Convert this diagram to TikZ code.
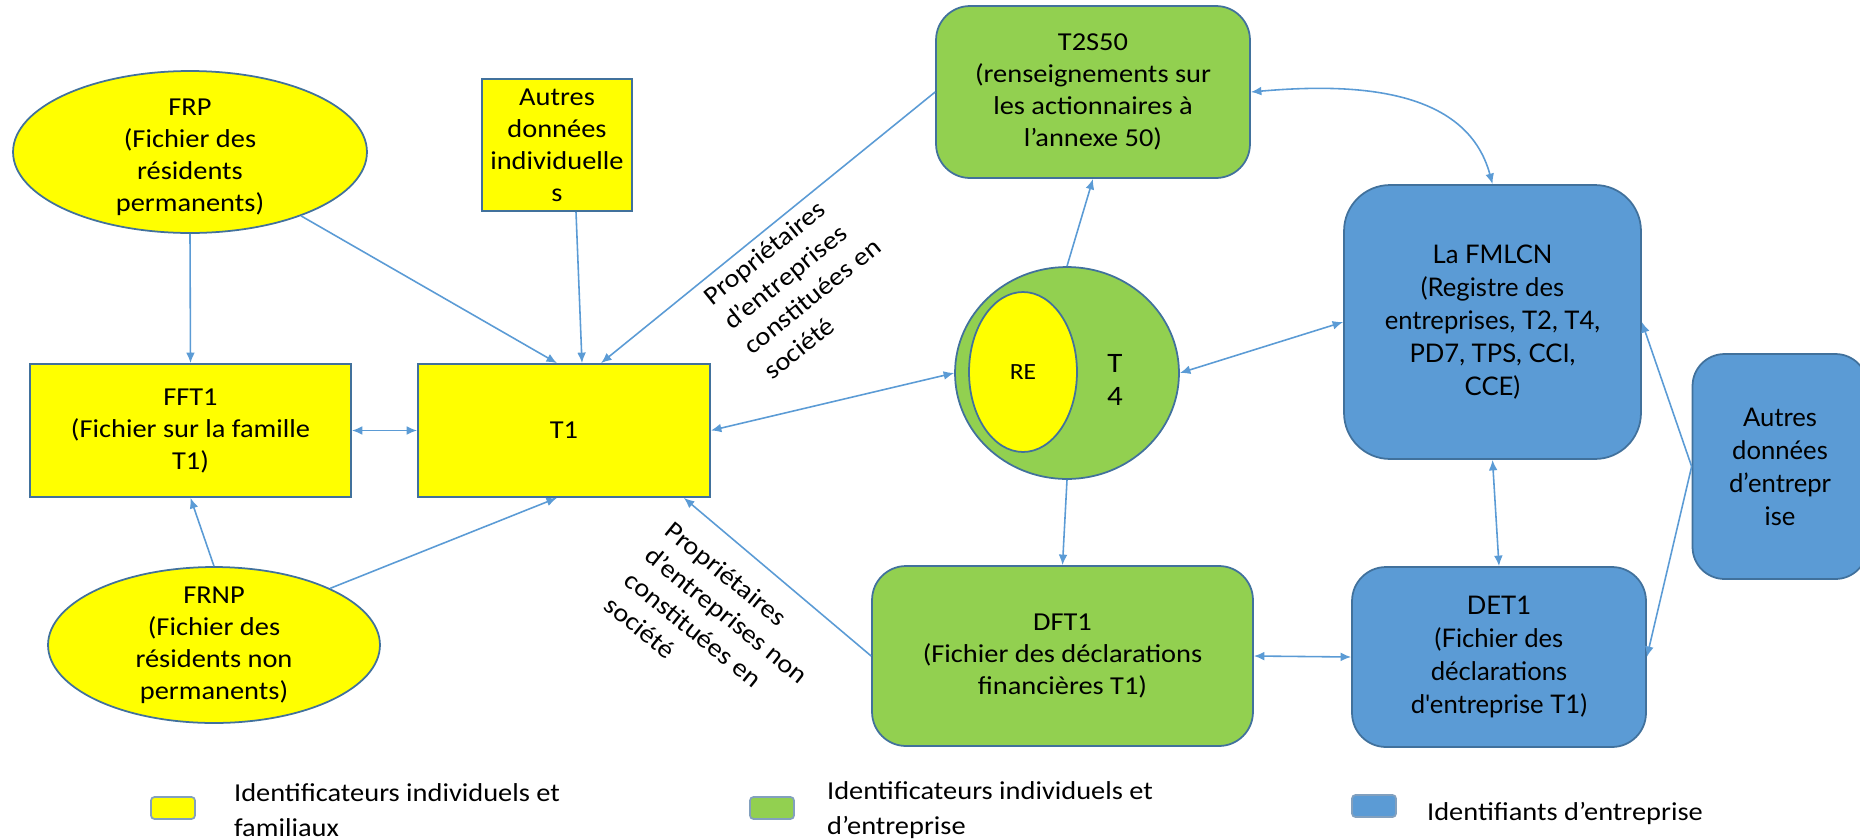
\documentclass[tikz,border=0pt]{standalone}
\usepackage{fontspec}
\setmainfont{Carlito}[FakeStretch=1.1]
\newfontfamily\latoFont{Lato}
\usetikzlibrary{shapes.geometric,arrows.meta,positioning,calc}
\definecolor{jaune}{RGB}{255,255,0}
\definecolor{vert}{RGB}{146,208,80}
\definecolor{bleu}{RGB}{91,155,213}
\definecolor{bord}{RGB}{65,113,156}
\definecolor{fleche}{RGB}{91,155,213}
\definecolor{bordLeg}{RGB}{130,160,190}

\begin{document}
\begin{tikzpicture}[x=0.02cm,y=-0.02cm,
    every node/.style={font=\fontsize{14.7}{18.2}\selectfont,align=center,inner sep=1pt},
    indiv/.style={draw=bord,fill=jaune,line width=1pt},
    mixte/.style={draw=bord,fill=vert,line width=1pt,rounded corners=0.68cm},
    entre/.style={draw=bord,fill=bleu,line width=1pt,rounded corners=0.68cm,
      font=\latoFont\fontsize{14.6}{18.8}\selectfont},
    lien/.style={draw=fleche,line width=0.9pt},
    >={Latex[length=6pt,width=5pt]}]

      \useasboundingbox (0,0) rectangle (1860,839);

      % draw the individual files
      \node[indiv,ellipse,inner sep=0pt,minimum width=7.08cm,minimum height=3.24cm] (frp) at (190,152) {};
      \node (frpTxt) at (190,157) {FRP\\(Fichier des\\résidents\\permanents)};
      \node[indiv,ellipse,inner sep=0pt,minimum width=6.64cm,minimum height=3.12cm] (frnp) at (214,645) {};
      \node (frnpTxt) at (frnp) {FRNP\\(Fichier des\\résidents non\\permanents)};
      \node[indiv,minimum width=6.42cm,minimum height=2.66cm] (fft) at (190.5,430.5) {FFT1\\(Fichier sur la famille\\T1)};
      \node[indiv,minimum width=5.84cm,minimum height=2.66cm] (tUn) at (564,430.5) {T1};
      \node[indiv,minimum width=3cm,minimum height=2.64cm] (autresInd) at (557,145) {Autres\\données\\individuelle\\s};

      % draw the mixed files
      \node[mixte,minimum width=6.28cm,minimum height=3.44cm] (tDeuxS) at (1093,92) {T2S50\\(renseignements sur\\les actionnaires à\\l’annexe 50)};
      \node[mixte,minimum width=7.62cm,minimum height=3.6cm] (dft) at (1062.5,656) {DFT1\\(Fichier des déclarations\\financières T1)};
      \node[draw=bord,fill=vert,line width=1pt,ellipse,inner sep=0pt,minimum width=4.48cm,minimum height=4.24cm] (cercleT) at (1067,373) {};
      \node[indiv,ellipse,inner sep=0pt,minimum width=2.16cm,minimum height=3.2cm,font=\fontsize{13.2}{16}\selectfont] (re) at (1023,372) {RE};
      \node[font=\fontsize{16}{18.5}\selectfont] (tQuatre) at (1115,380) {T\\4};

      % draw the business files
      \node[entre,rounded corners=0.92cm,minimum width=5.94cm,minimum height=5.48cm] (fmlcn) at (1492.5,322) {La FMLCN\\(Registre des\\entreprises, T2, T4,\\PD7, TPS, CCI,\\CCE)};
      \node[entre,minimum width=5.88cm,minimum height=3.6cm] (det) at (1499,657) {DET1\\(Fichier des\\déclarations\\d'entreprise T1)};
      \node[entre,rounded corners=0.64cm,minimum width=3.5cm,minimum height=4.5cm] (autresEnt) at (1780,466.5) {Autres\\données\\d’entrepr\\ise};

      % draw the links towards T1
      \draw[lien,->] (frp.south) -- (fft.north);
      \draw[lien,->] (frp) -- ([xshift=-0.14cm]tUn.north);
      \draw[lien,->] ([xshift=0.38cm]autresInd.south) -- ([xshift=0.36cm]tUn.north);
      \draw[lien,->] (tDeuxS.west) -- ([xshift=0.74cm]tUn.north);
      \draw[lien,<->] (fft) -- (tUn);
      \draw[lien,->] (frnp.north) -- (fft.south);
      \draw[lien,->] (frnp.26) -- ([xshift=-0.14cm]tUn.south);
      \draw[lien,->] (dft.west) -- ([xshift=-0.54cm]tUn.south east);

      % draw the other links
      \draw[lien,<->] (tUn.east) -- (cercleT.west);
      \draw[lien,->] (cercleT.north) -- (tDeuxS.south);
      \draw[lien,->] (cercleT.south) -- (dft.north);
      \draw[lien,<->] (cercleT.east) -- (fmlcn.west);
      \draw[lien,<->] (tDeuxS.east) to[out=5,in=105] (fmlcn.north);
      \draw[lien,<->] (fmlcn.south) -- (det.north);
      \draw[lien,<->] (dft.east) -- (det.west);
      \draw[lien,->] (autresEnt.west) -- (fmlcn.east);
      \draw[lien,->] (autresEnt.west) -- (det.east);

      % label the owners
      \node[rotate=39,align=left,anchor=north west] (propCons) at (698,292) {Propriétaires\\d’entreprises\\constituées en\\société};
      \node[rotate=-39,align=left,anchor=north west] (propNonCons) at (674,517) {Propriétaires\\d’entreprises non\\constituées en\\société};

      % draw the legend
      \foreach \coul/\xbox/\ybox/\xtxt/\ytxt/\texte [count=\i] in {
        jaune/173/808/232/810/{Identificateurs individuels et\\familiaux},
        vert/772/808/825/810/{Identificateurs individuels et\\d’entreprise},
        bleu/1374/806/1425/813/{Identifiants d’entreprise}}
      {
        \node[draw=bordLeg,fill=\coul,line width=1pt,rounded corners=2pt,minimum width=0.88cm,minimum height=0.44cm] (leg\i) at (\xbox,\ybox) {};
        \node[anchor=west,align=left,font=\fontsize{14.7}{19.5}\selectfont] (legTxt\i) at (\xtxt,\ytxt) {\texte};
      }

\end{tikzpicture}
\end{document}
